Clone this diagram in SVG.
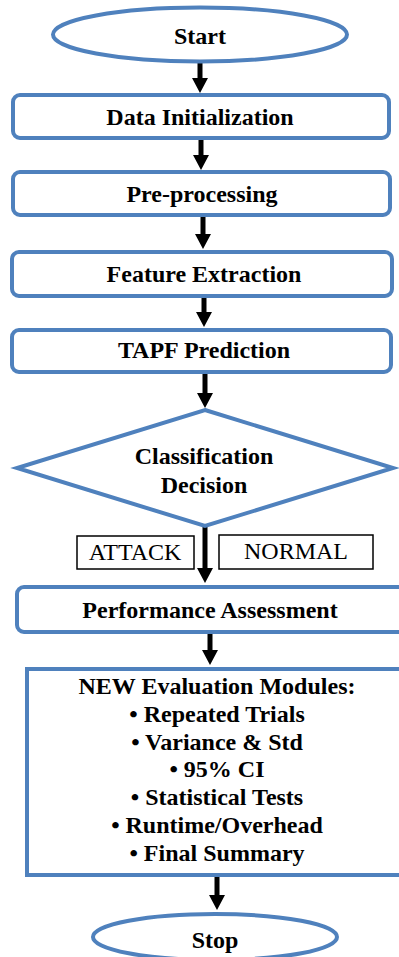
<svg xmlns="http://www.w3.org/2000/svg" width="399" height="957" viewBox="0 0 399 957">
  <style>
    .blue { fill: #ffffff; stroke: #4f81bd; stroke-width: 4; }
    text { font-family: 'Liberation Serif', 'DejaVu Serif', serif; fill: #000; text-anchor: middle; font-size: 24px; }
    .lbl { font-weight: bold; }
    .tag { fill: #ffffff; stroke: #000; stroke-width: 1.5; }
    .flow { stroke: #000; stroke-width: 5; fill: none; marker-end: url(#head); }
  </style>
  <defs>
    <marker id="head" viewBox="0 0 15 16" refX="0" refY="8" markerWidth="15" markerHeight="16" markerUnits="userSpaceOnUse" orient="auto">
      <path d="M0,0 L15,8 L0,16 z" fill="#000"/>
    </marker>
  </defs>

  <rect width="399" height="957" fill="#ffffff"/>

  <!-- connectors -->
  <g id="connectors">
    <line class="flow" x1="200" y1="62" x2="200" y2="78"/>
    <line class="flow" x1="201" y1="138" x2="201" y2="155"/>
    <line class="flow" x1="203" y1="215" x2="203" y2="234"/>
    <line class="flow" x1="204" y1="296" x2="204" y2="312"/>
    <line class="flow" x1="205" y1="372" x2="205" y2="393"/>
    <line class="flow" x1="205" y1="526" x2="205" y2="568"/>
    <line class="flow" x1="210" y1="632" x2="210" y2="650"/>
    <line class="flow" x1="217" y1="875" x2="217" y2="895"/>
  </g>

  <g id="start">
    <ellipse class="blue" cx="200" cy="34.5" rx="147" ry="27"/>
    <text class="lbl" x="200" y="44">Start</text>
  </g>

  <g id="data-init">
    <rect class="blue" x="13" y="95" width="376" height="43" rx="7"/>
    <text class="lbl" x="200" y="125">Data Initialization</text>
  </g>

  <g id="preprocessing">
    <rect class="blue" x="13" y="172" width="377" height="43" rx="7"/>
    <text class="lbl" x="202" y="202">Pre-processing</text>
  </g>

  <g id="feature-extraction">
    <rect class="blue" x="12" y="252" width="380" height="44" rx="7"/>
    <text class="lbl" x="204" y="282">Feature Extraction</text>
  </g>

  <g id="tapf-prediction">
    <rect class="blue" x="12" y="330" width="379" height="42" rx="7"/>
    <text class="lbl" x="204" y="358">TAPF Prediction</text>
  </g>

  <g id="decision">
    <polygon class="blue" points="205,410 393,468 205,526 17,468"/>
    <text class="lbl" x="204" y="464">Classification</text>
    <text class="lbl" x="204" y="493">Decision</text>
  </g>

  <g id="attack-tag">
    <rect class="tag" x="77" y="536" width="117" height="33"/>
    <text x="135" y="560">ATTACK</text>
  </g>

  <g id="normal-tag">
    <rect class="tag" x="219" y="535" width="154" height="34"/>
    <text x="296" y="559">NORMAL</text>
  </g>

  <g id="performance">
    <rect class="blue" x="17" y="587" width="390" height="45" rx="7"/>
    <text class="lbl" x="210" y="618">Performance Assessment</text>
  </g>

  <g id="evaluation-modules">
    <rect class="blue" x="27" y="669" width="380" height="206"/>
    <text class="lbl" x="217" y="694">NEW Evaluation Modules:</text>
    <text class="lbl" x="217" y="722">• Repeated Trials</text>
    <text class="lbl" x="217" y="750">• Variance &amp; Std</text>
    <text class="lbl" x="217" y="777">• 95% CI</text>
    <text class="lbl" x="217" y="805">• Statistical Tests</text>
    <text class="lbl" x="217" y="833">• Runtime/Overhead</text>
    <text class="lbl" x="217" y="861">• Final Summary</text>
  </g>

  <g id="stop">
    <ellipse class="blue" cx="215" cy="937" rx="122" ry="23"/>
    <text class="lbl" x="215" y="948">Stop</text>
  </g>
</svg>
